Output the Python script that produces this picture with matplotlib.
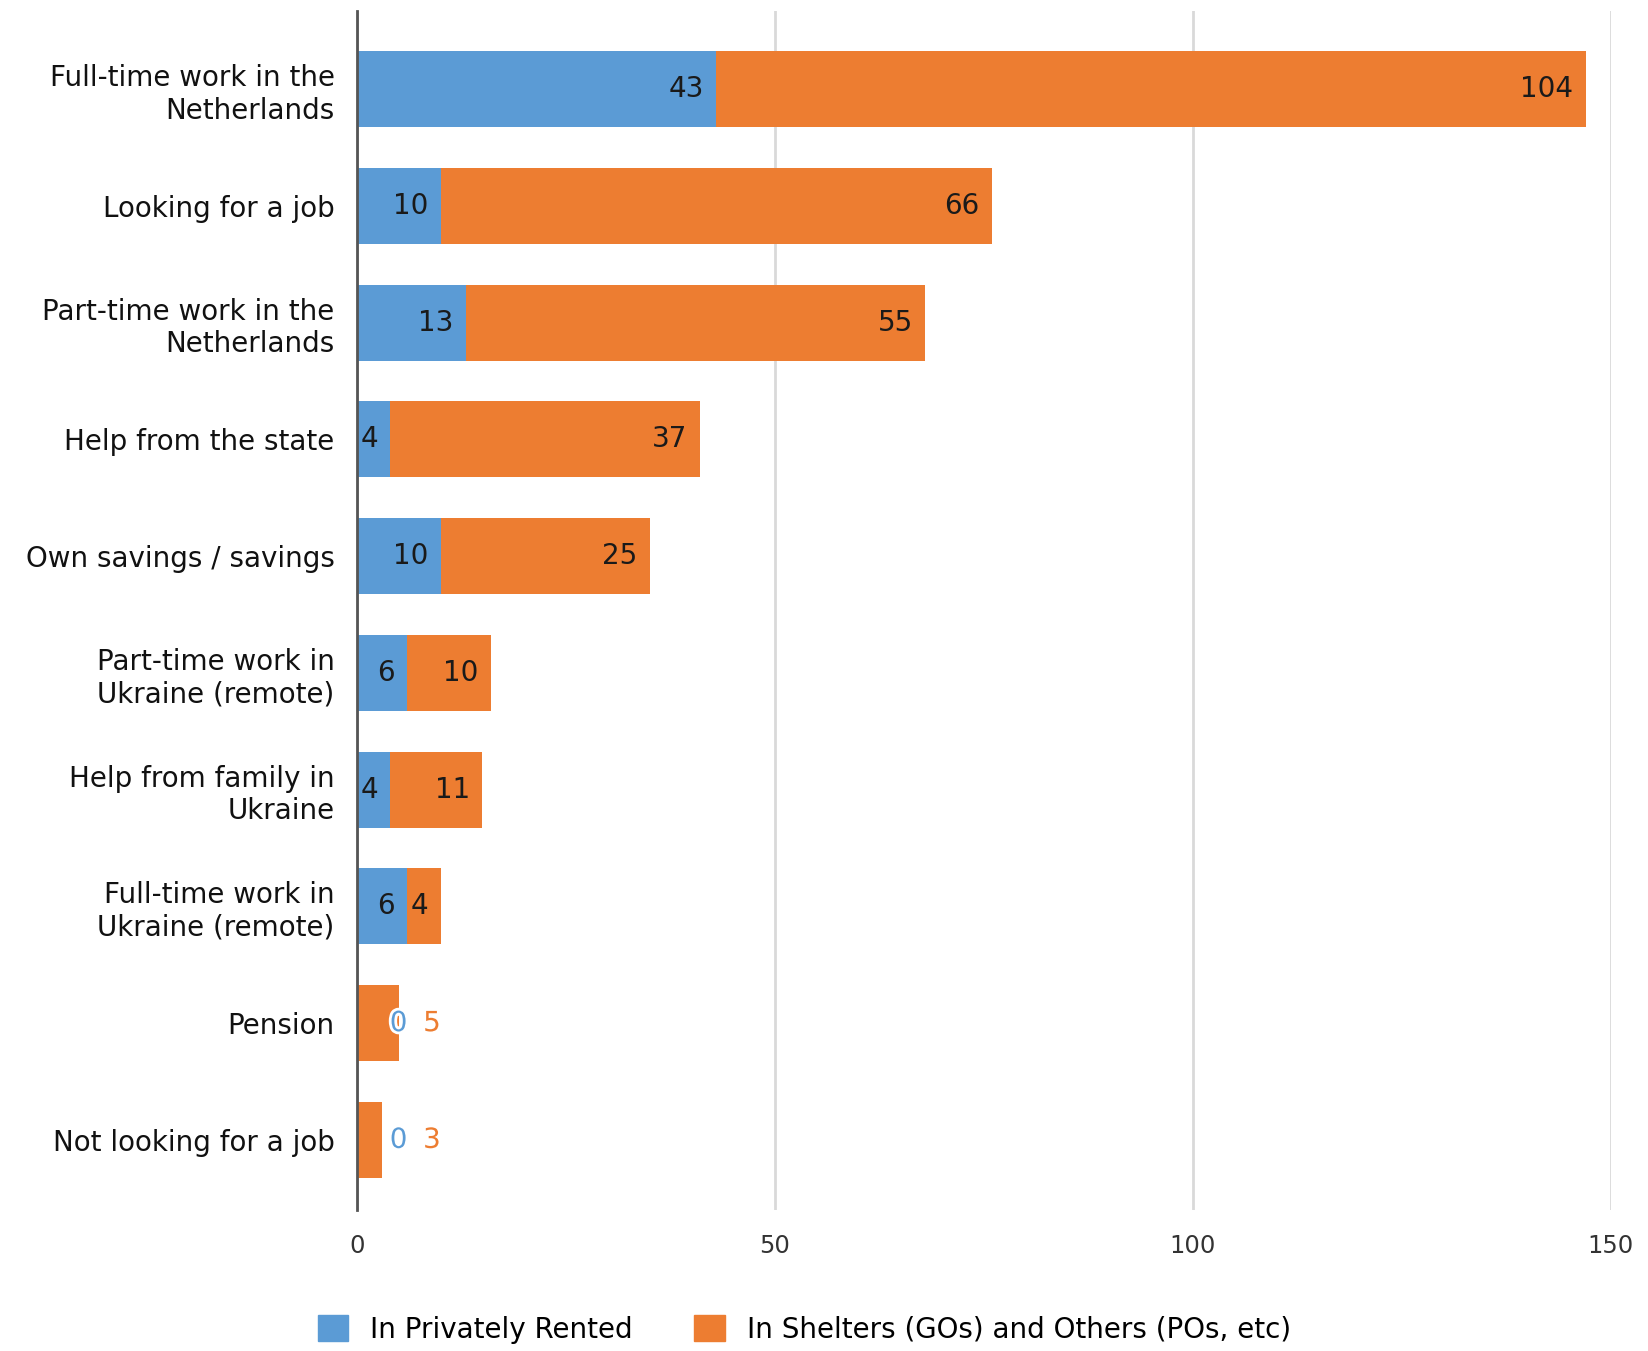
import numpy as np
import matplotlib
matplotlib.use('Agg')
import matplotlib.pyplot as plt
import matplotlib.patheffects as pe
from matplotlib.patches import Patch

plt.rcParams['font.family'] = ['DejaVu Sans']

# data to plot
categories = ['Full-time work in the\nNetherlands', 'Looking for a job',
              'Part-time work in the\nNetherlands', 'Help from the state',
              'Own savings / savings', 'Part-time work in\nUkraine (remote)',
              'Help from family in\nUkraine', 'Full-time work in\nUkraine (remote)',
              'Pension', 'Not looking for a job']
private_rented = [43, 10, 13, 4, 10, 6, 4, 6, 0, 0]
shelters = [104, 66, 55, 37, 25, 10, 11, 4, 5, 3]
series_names = ['In Privately Rented', 'In Shelters (GOs) and Others (POs, etc)']

blue = '#5B9BD5'
orange = '#ED7D31'

fig = plt.figure(figsize=(16.48, 13.51), dpi=100)
ax = fig.add_axes([0.2166, 0.1044, 0.7609, 0.8875])

index = np.arange(len(categories))
bar_h = 0.65
private_rented = np.array(private_rented)
shelters = np.array(shelters)

ax.barh(index, private_rented, bar_h, color=blue, zorder=3)
ax.barh(index, shelters, bar_h, left=private_rented, color=orange, zorder=3)

# value labels
for i in index:
    b = private_rented[i]
    s = shelters[i]
    if b == 0:
        stroke = [pe.withStroke(linewidth=4, foreground='white')]
        ax.annotate(str(b), xy=(0, i), xytext=(30, 0), textcoords='offset points',
                    ha='center', va='center', fontsize=20, color=blue,
                    path_effects=stroke, zorder=5)
        ax.annotate(str(s), xy=(0, i), xytext=(54, 0), textcoords='offset points',
                    ha='center', va='center', fontsize=20, color=orange,
                    path_effects=stroke, zorder=5)
    else:
        ax.annotate(str(b), xy=(b, i), xytext=(-9, 0), textcoords='offset points',
                    ha='right', va='center', fontsize=20, color='#1a1a1a', zorder=5)
        ax.annotate(str(s), xy=(b + s, i), xytext=(-9, 0), textcoords='offset points',
                    ha='right', va='center', fontsize=20, color='#1a1a1a', zorder=5)

ax.set_xlim(0, 150)
ax.set_ylim(9.6, -0.67)
ax.set_xticks([0, 50, 100, 150])
ax.set_yticks(index)
ax.set_yticklabels(categories, fontsize=20, color='#111111')
ax.tick_params(axis='x', labelsize=17.5, colors='#333333', length=0, pad=17)
ax.tick_params(axis='y', length=0, pad=16)
ax.xaxis.grid(True, color='#d9d9d9', linewidth=2, zorder=0)

for sp in ['top', 'right', 'bottom']:
    ax.spines[sp].set_visible(False)
ax.spines['left'].set_color('#555555')
ax.spines['left'].set_linewidth(2)
ax.spines['left'].set_zorder(4)

handles = [Patch(color=blue), Patch(color=orange)]
fig.legend(handles, series_names, loc='lower center', bbox_to_anchor=(0.488, -0.013),
           ncol=2, frameon=False, fontsize=20, handlelength=1.1, handleheight=1.1,
           handletextpad=0.8, columnspacing=2.2)

fig.savefig('out.png', dpi=100)
